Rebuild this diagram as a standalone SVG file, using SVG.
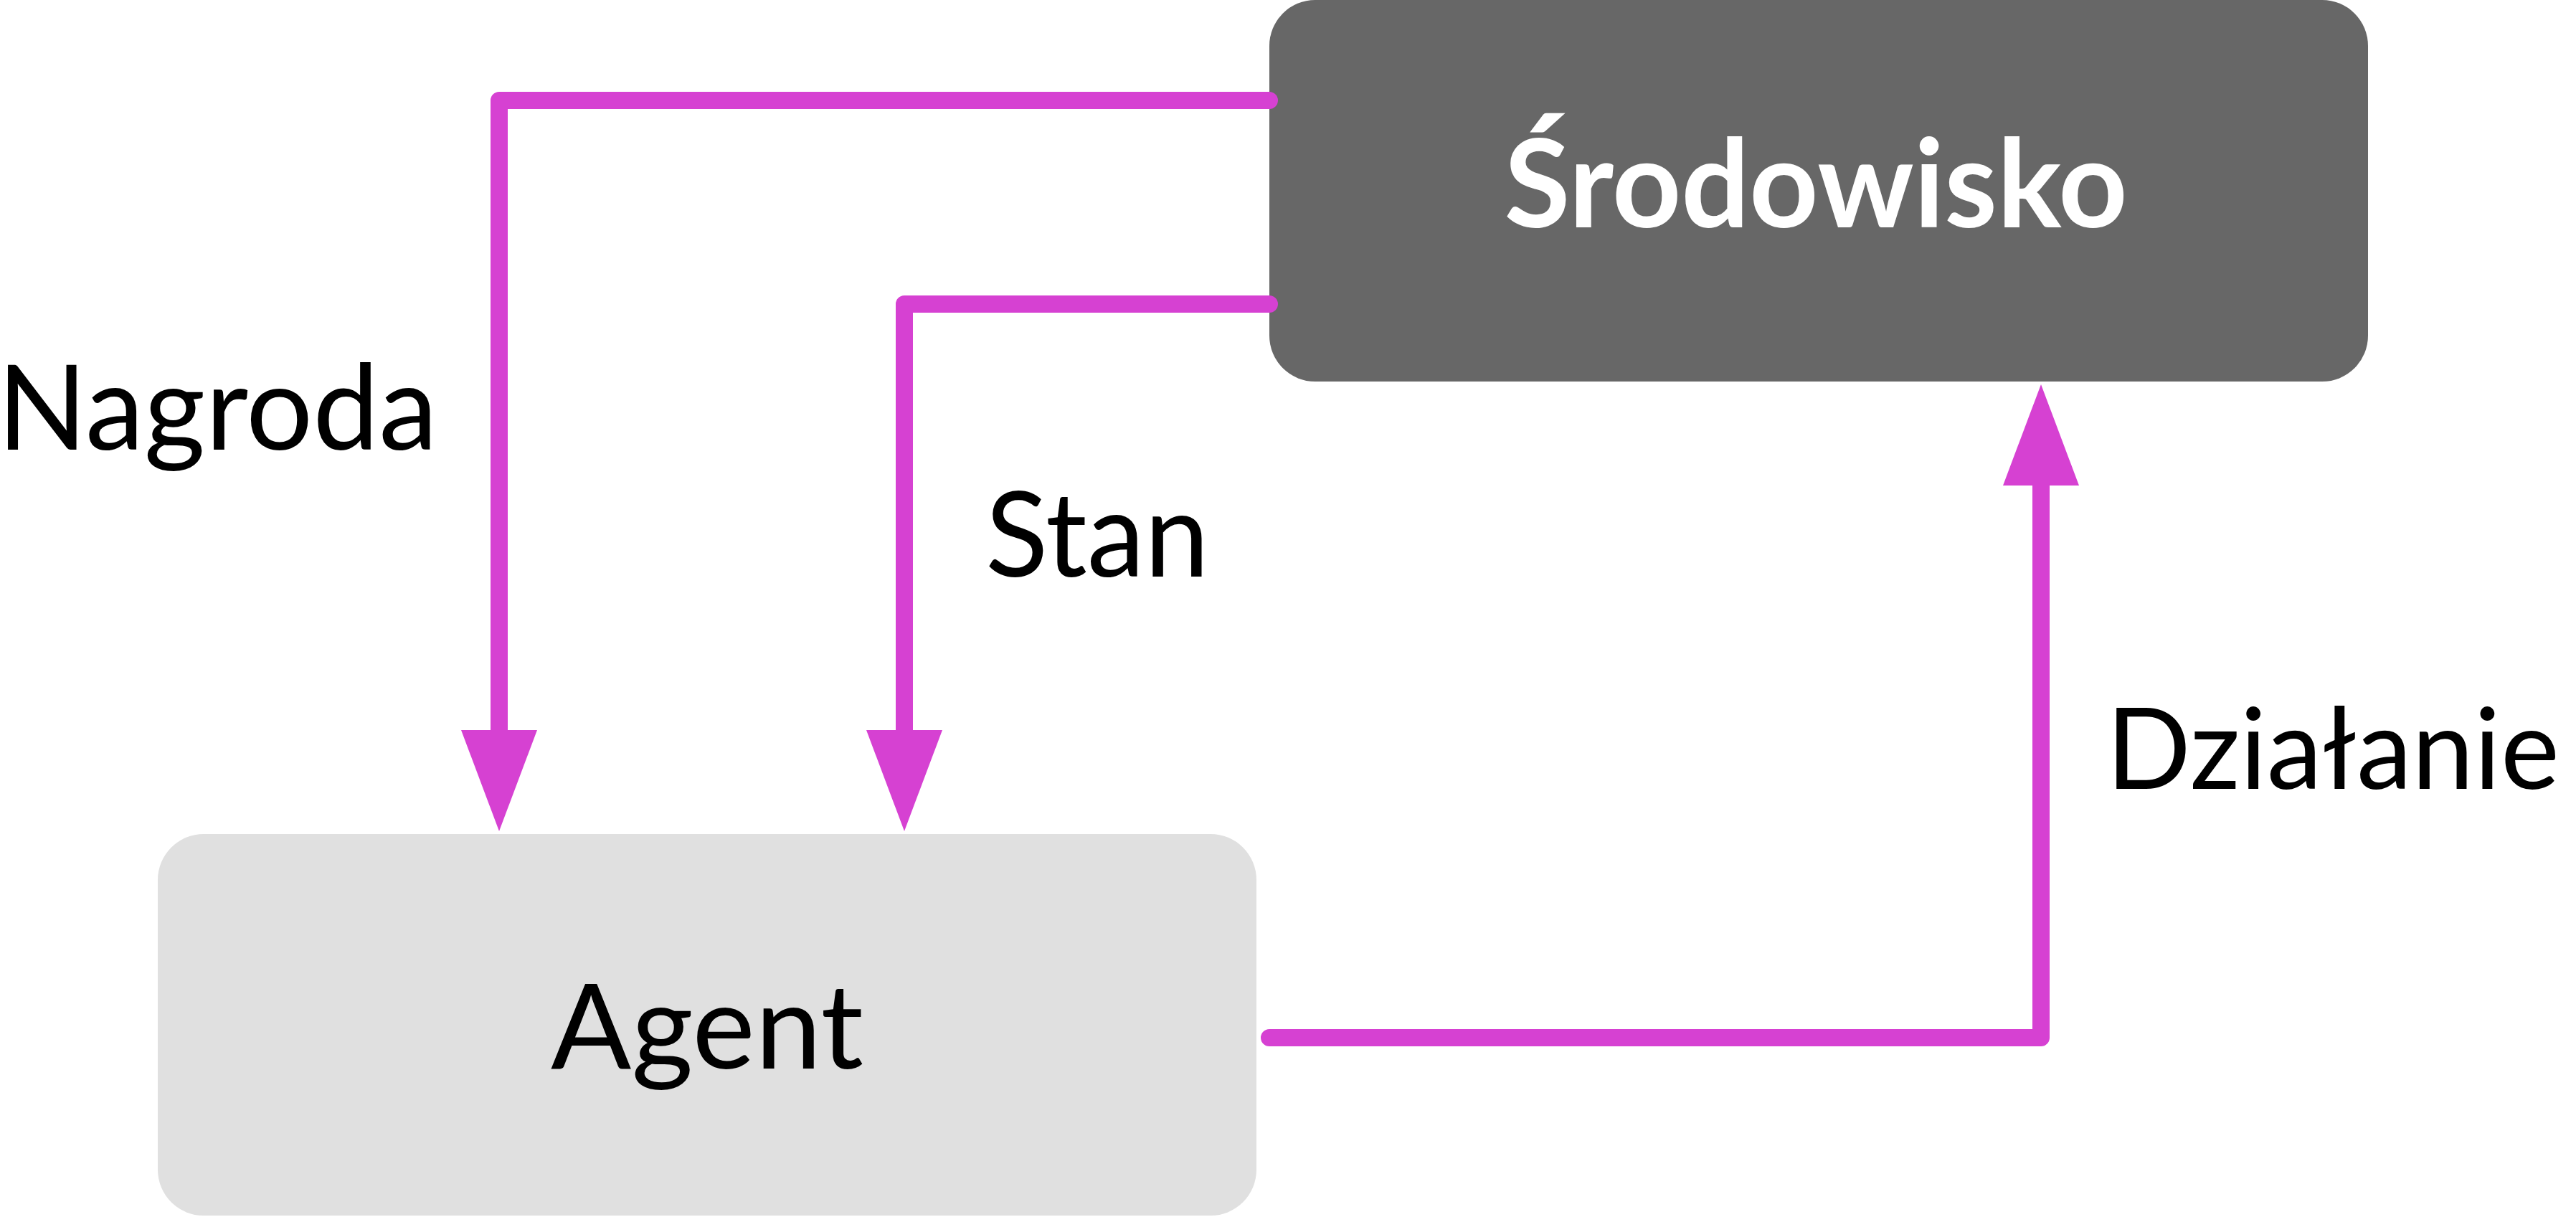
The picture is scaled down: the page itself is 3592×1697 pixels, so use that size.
<svg xmlns="http://www.w3.org/2000/svg" width="3592" height="1697" viewBox="0 0 3592 1697">
<style>
.conn{fill:none;stroke:#d641d2;stroke-width:24;stroke-linejoin:round;stroke-linecap:round}
.lbl{font-family:Lato,"Open Sans","Liberation Sans",sans-serif;font-size:164px;fill:#000}
.title{font-family:Lato,"Open Sans","Liberation Sans",sans-serif;font-size:170px;font-weight:700;fill:#fff}
</style>
<defs>
<marker id="arr" viewBox="0 0 141 106" refX="0" refY="53" markerWidth="141" markerHeight="106" markerUnits="userSpaceOnUse" orient="auto">
<path d="M0,0 L141,53 L0,106 Z" fill="#d641d2"/>
</marker>
</defs>
<rect width="3592" height="1697" fill="#fff"/>
<g id="srodowisko">
<rect x="1770" y="0" width="1532" height="532" rx="64" ry="64" fill="#676767"/>
<text class="title" x="2532" y="317" text-anchor="middle" textLength="869" lengthAdjust="spacingAndGlyphs">Środowisko</text>
</g>
<g id="agent">
<rect x="220" y="1163" width="1532" height="532" rx="64" ry="64" fill="#e0e0e0"/>
<text class="lbl" x="986" y="1490" text-anchor="middle" textLength="436" lengthAdjust="spacingAndGlyphs">Agent</text>
</g>
<g id="connectors">
<path class="conn" d="M1770,140 H696 V1018" marker-end="url(#arr)"/>
<path class="conn" d="M1770,424 H1261 V1018" marker-end="url(#arr)"/>
<path class="conn" d="M1770,1447 H2846 V677" marker-end="url(#arr)"/>
</g>
<g id="labels">
<text class="lbl" x="-4" y="627" textLength="614" lengthAdjust="spacingAndGlyphs">Nagroda</text>
<text class="lbl" x="1374" y="804" textLength="312" lengthAdjust="spacingAndGlyphs">Stan</text>
<text class="lbl" x="2937" y="1100" style="font-size:158px" textLength="632" lengthAdjust="spacingAndGlyphs">Działanie</text>
</g>
</svg>
